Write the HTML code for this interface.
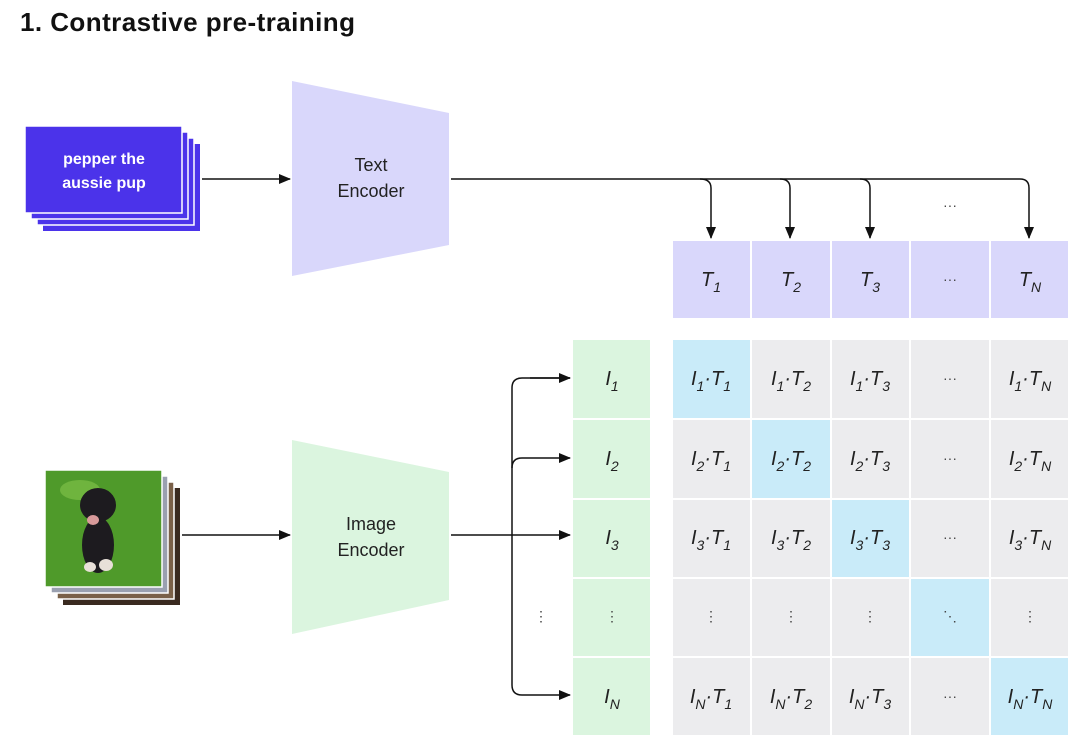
<!DOCTYPE html>
<html><head><meta charset="utf-8"><style>
html,body{margin:0;padding:0;background:#fff;}
svg{display:block;font-family:"Liberation Sans",sans-serif;}
.m{font-style:italic;font-size:20px;fill:#222;}
.s{font-size:14px;}
.d{font-size:14px;fill:#444;}
</style></head><body>
<svg width="1080" height="747" viewBox="0 0 1080 747" xmlns="http://www.w3.org/2000/svg">
<defs><marker id="a" markerWidth="12" markerHeight="12" refX="11" refY="6" orient="auto" markerUnits="userSpaceOnUse"><path d="M0,1 L12,6 L0,11 Z" fill="#111"/></marker></defs>
<text x="20" y="31" font-size="26" font-weight="bold" fill="#111" textLength="335">1. Contrastive pre-training</text>

<rect x="43" y="144" width="157" height="87" fill="#4b33ea"/>
<rect x="37" y="138" width="157" height="87" fill="#4b33ea" stroke="#fff" stroke-width="1.5"/>
<rect x="31" y="132" width="157" height="87" fill="#4b33ea" stroke="#fff" stroke-width="1.5"/>
<rect x="25" y="126" width="157" height="87" fill="#4b33ea" stroke="#fff" stroke-width="1.5"/>
<text x="104" y="164" text-anchor="middle" font-size="16" font-weight="bold" fill="#fff">pepper the</text>
<text x="104" y="188" text-anchor="middle" font-size="16" font-weight="bold" fill="#fff">aussie pup</text>
<line x1="202" y1="179" x2="290" y2="179" stroke="#111" stroke-width="1.5" marker-end="url(#a)"/>

<polygon points="292,81 449,113 449,245 292,276" fill="#d9d7fb"/>
<text x="371" y="171" text-anchor="middle" font-size="18" fill="#222">Text</text>
<text x="371" y="197" text-anchor="middle" font-size="18" fill="#222">Encoder</text>

<path d="M451,179 H1020 Q1029,179 1029,188 V238" fill="none" stroke="#111" stroke-width="1.5" marker-end="url(#a)"/>
<path d="M700,179 Q711,179 711,188 V238" fill="none" stroke="#111" stroke-width="1.5" marker-end="url(#a)"/>
<path d="M780,179 Q790,179 790,188 V238" fill="none" stroke="#111" stroke-width="1.5" marker-end="url(#a)"/>
<path d="M860,179 Q870,179 870,188 V238" fill="none" stroke="#111" stroke-width="1.5" marker-end="url(#a)"/>
<text x="950" y="210" text-anchor="middle" class="d">···</text>

<g fill="#d9d7fb">
<rect x="673" y="241" width="77" height="77"/><rect x="752" y="241" width="78" height="77"/><rect x="832" y="241" width="77" height="77"/><rect x="911" y="241" width="78" height="77"/><rect x="991" y="241" width="77" height="77"/>
</g>
<text x="711" y="286" text-anchor="middle" class="m">T<tspan dy="6" class="s">1</tspan></text>
<text x="791" y="286" text-anchor="middle" class="m">T<tspan dy="6" class="s">2</tspan></text>
<text x="870" y="286" text-anchor="middle" class="m">T<tspan dy="6" class="s">3</tspan></text>
<text x="950" y="284" text-anchor="middle" class="d">···</text>
<text x="1030" y="286" text-anchor="middle" class="m">T<tspan dy="6" class="s">N</tspan></text>

<rect x="63" y="488" width="117" height="117" fill="#3a2a20"/>
<rect x="57" y="482" width="117" height="117" fill="#7a6048" stroke="#fff" stroke-width="1.5"/>
<rect x="51" y="476" width="117" height="117" fill="#9aa0b0" stroke="#fff" stroke-width="1.5"/>
<rect x="45" y="470" width="117" height="117" fill="#4f9a2a" stroke="#fff" stroke-width="1.5"/>
<ellipse cx="80" cy="490" rx="20" ry="10" fill="#6fb43e"/>
<ellipse cx="98" cy="545" rx="16" ry="28" fill="#1d1b1f"/>
<ellipse cx="98" cy="505" rx="18" ry="17" fill="#1d1b1f"/>
<ellipse cx="93" cy="520" rx="6" ry="5" fill="#d89a9a"/>
<ellipse cx="106" cy="565" rx="7" ry="6" fill="#e8e0d8"/>
<ellipse cx="90" cy="567" rx="6" ry="5" fill="#e8e0d8"/>
<line x1="182" y1="535" x2="290" y2="535" stroke="#111" stroke-width="1.5" marker-end="url(#a)"/>

<polygon points="292,440 449,472 449,600 292,634" fill="#dbf5df"/>
<text x="371" y="530" text-anchor="middle" font-size="18" fill="#222">Image</text>
<text x="371" y="556" text-anchor="middle" font-size="18" fill="#222">Encoder</text>

<line x1="451" y1="535" x2="570" y2="535" stroke="#111" stroke-width="1.5" marker-end="url(#a)"/>
<path d="M570,378 H522 Q512,378 512,388 V685 Q512,695 522,695 H570" fill="none" stroke="#111" stroke-width="1.5" marker-end="url(#a)"/>
<path d="M512,468 Q512,458 522,458 H570" fill="none" stroke="#111" stroke-width="1.5" marker-end="url(#a)"/>
<line x1="530" y1="378" x2="570" y2="378" stroke="#111" stroke-width="1.5" marker-end="url(#a)"/>
<text x="541" y="621" text-anchor="middle" class="d">⋮</text>

<g fill="#dbf5df">
<rect x="573" y="340" width="77" height="78"/><rect x="573" y="420" width="77" height="78"/><rect x="573" y="500" width="77" height="77"/><rect x="573" y="579" width="77" height="77"/><rect x="573" y="658" width="77" height="77"/>
</g>
<text x="612" y="385" text-anchor="middle" class="m">I<tspan dy="6" class="s">1</tspan></text>
<text x="612" y="465" text-anchor="middle" class="m">I<tspan dy="6" class="s">2</tspan></text>
<text x="612" y="544" text-anchor="middle" class="m">I<tspan dy="6" class="s">3</tspan></text>
<text x="612" y="621" text-anchor="middle" class="d">⋮</text>
<text x="612" y="703" text-anchor="middle" class="m">I<tspan dy="6" class="s">N</tspan></text>

<g fill="#ececee">
<rect x="752" y="340" width="78" height="78"/><rect x="832" y="340" width="77" height="78"/><rect x="911" y="340" width="78" height="78"/><rect x="991" y="340" width="77" height="78"/>
<rect x="673" y="420" width="77" height="78"/><rect x="832" y="420" width="77" height="78"/><rect x="911" y="420" width="78" height="78"/><rect x="991" y="420" width="77" height="78"/>
<rect x="673" y="500" width="77" height="77"/><rect x="752" y="500" width="78" height="77"/><rect x="911" y="500" width="78" height="77"/><rect x="991" y="500" width="77" height="77"/>
<rect x="673" y="579" width="77" height="77"/><rect x="752" y="579" width="78" height="77"/><rect x="832" y="579" width="77" height="77"/><rect x="991" y="579" width="77" height="77"/>
<rect x="673" y="658" width="77" height="77"/><rect x="752" y="658" width="78" height="77"/><rect x="832" y="658" width="77" height="77"/><rect x="911" y="658" width="78" height="77"/>
</g>
<g fill="#c9ebf9">
<rect x="673" y="340" width="77" height="78"/><rect x="752" y="420" width="78" height="78"/><rect x="832" y="500" width="77" height="77"/><rect x="911" y="579" width="78" height="77"/><rect x="991" y="658" width="77" height="77"/>
</g>

<text x="711" y="385" text-anchor="middle" class="m">I<tspan dy="6" class="s">1</tspan><tspan dy="-6">·T</tspan><tspan dy="6" class="s">1</tspan></text>
<text x="791" y="385" text-anchor="middle" class="m">I<tspan dy="6" class="s">1</tspan><tspan dy="-6">·T</tspan><tspan dy="6" class="s">2</tspan></text>
<text x="870" y="385" text-anchor="middle" class="m">I<tspan dy="6" class="s">1</tspan><tspan dy="-6">·T</tspan><tspan dy="6" class="s">3</tspan></text>
<text x="950" y="383" text-anchor="middle" class="d">···</text>
<text x="1030" y="385" text-anchor="middle" class="m">I<tspan dy="6" class="s">1</tspan><tspan dy="-6">·T</tspan><tspan dy="6" class="s">N</tspan></text>
<text x="711" y="465" text-anchor="middle" class="m">I<tspan dy="6" class="s">2</tspan><tspan dy="-6">·T</tspan><tspan dy="6" class="s">1</tspan></text>
<text x="791" y="465" text-anchor="middle" class="m">I<tspan dy="6" class="s">2</tspan><tspan dy="-6">·T</tspan><tspan dy="6" class="s">2</tspan></text>
<text x="870" y="465" text-anchor="middle" class="m">I<tspan dy="6" class="s">2</tspan><tspan dy="-6">·T</tspan><tspan dy="6" class="s">3</tspan></text>
<text x="950" y="463" text-anchor="middle" class="d">···</text>
<text x="1030" y="465" text-anchor="middle" class="m">I<tspan dy="6" class="s">2</tspan><tspan dy="-6">·T</tspan><tspan dy="6" class="s">N</tspan></text>
<text x="711" y="544" text-anchor="middle" class="m">I<tspan dy="6" class="s">3</tspan><tspan dy="-6">·T</tspan><tspan dy="6" class="s">1</tspan></text>
<text x="791" y="544" text-anchor="middle" class="m">I<tspan dy="6" class="s">3</tspan><tspan dy="-6">·T</tspan><tspan dy="6" class="s">2</tspan></text>
<text x="870" y="544" text-anchor="middle" class="m">I<tspan dy="6" class="s">3</tspan><tspan dy="-6">·T</tspan><tspan dy="6" class="s">3</tspan></text>
<text x="950" y="542" text-anchor="middle" class="d">···</text>
<text x="1030" y="544" text-anchor="middle" class="m">I<tspan dy="6" class="s">3</tspan><tspan dy="-6">·T</tspan><tspan dy="6" class="s">N</tspan></text>
<text x="711" y="621" text-anchor="middle" class="d">⋮</text>
<text x="791" y="621" text-anchor="middle" class="d">⋮</text>
<text x="870" y="621" text-anchor="middle" class="d">⋮</text>
<text x="950" y="621" text-anchor="middle" class="d">⋱</text>
<text x="1030" y="621" text-anchor="middle" class="d">⋮</text>
<text x="711" y="703" text-anchor="middle" class="m">I<tspan dy="6" class="s">N</tspan><tspan dy="-6">·T</tspan><tspan dy="6" class="s">1</tspan></text>
<text x="791" y="703" text-anchor="middle" class="m">I<tspan dy="6" class="s">N</tspan><tspan dy="-6">·T</tspan><tspan dy="6" class="s">2</tspan></text>
<text x="870" y="703" text-anchor="middle" class="m">I<tspan dy="6" class="s">N</tspan><tspan dy="-6">·T</tspan><tspan dy="6" class="s">3</tspan></text>
<text x="950" y="701" text-anchor="middle" class="d">···</text>
<text x="1030" y="703" text-anchor="middle" class="m">I<tspan dy="6" class="s">N</tspan><tspan dy="-6">·T</tspan><tspan dy="6" class="s">N</tspan></text>
</svg>
</body></html>
